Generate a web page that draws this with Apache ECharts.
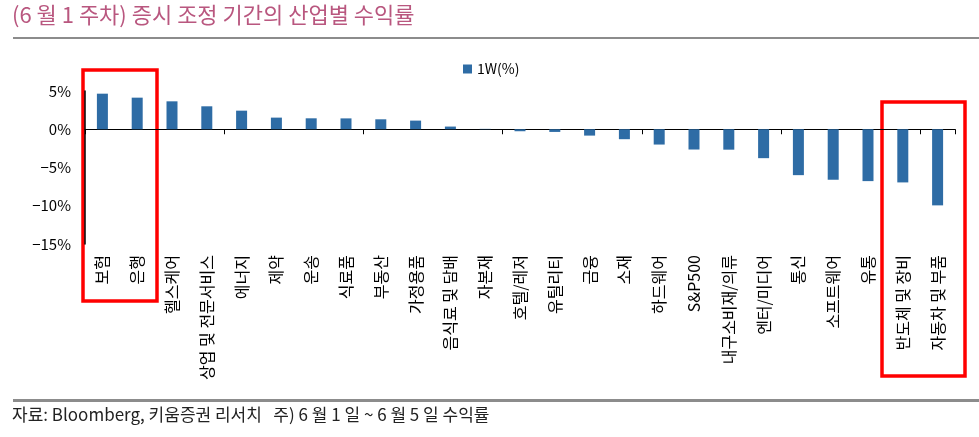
<!DOCTYPE html>
<html>
<head>
<meta charset="utf-8">
<script src="https://cdn.jsdelivr.net/npm/echarts@6/dist/echarts.min.js"></script>
<style>
  html, body { margin: 0; padding: 0; background: #fff; }
  #chart { width: 979px; height: 437px; }
</style>
</head>
<body>
<div id="chart"></div>
<script>
// 산업별 1주 수익률 (%)
const categories = ['보험', '은행', '헬스케어', '상업 및 전문서비스', '에너지', '제약', '운송', '식료품', '부동산', '가정용품',
  '음식료 및 담배', '자본재', '호텔/레저', '유틸리티', '금융', '소재', '하드웨어', 'S&P500', '내구소비재/의류', '엔터/미디어',
  '통신', '소프트웨어', '유통', '반도체 및 장비', '자동차 및 부품']
const weekReturn = [4.65, 4.13, 3.65, 3.0, 2.43, 1.52, 1.43, 1.42, 1.3, 1.13,
  0.35, 0.05, -0.26, -0.35, -0.83, -1.3, -2.0, -2.65, -2.67, -3.78,
  -6.0, -6.6, -6.78, -6.95, -9.95]
const yTicks = { min: -15, max: 5, interval: 5 }

const font = '"Noto Sans CJK KR", "Noto Sans", sans-serif'
const chart = echarts.init(document.getElementById('chart'))

chart.setOption({
  animation: false,
  textStyle: { fontFamily: font },
  grid: { left: 85, right: 24, top: 91, bottom: 193 },
  legend: {
    data: ['1W(%)'],
    top: 57,
    left: 458,
    itemWidth: 9,
    itemHeight: 9,
    icon: 'rect',
    textStyle: { fontSize: 14, color: '#000', fontFamily: font }
  },
  xAxis: [{
    type: 'category',
    data: categories,
    axisLine: { onZero: true, lineStyle: { color: '#000', width: 1 } },
    axisTick: { show: true, length: 5, lineStyle: { color: '#000' } },
    axisLabel: { show: false }
  }, {
    type: 'category',
    data: categories,
    position: 'bottom',
    axisLine: { show: false, onZero: false },
    axisTick: { show: false },
    axisLabel: {
      rotate: 90,
      margin: 11,
      fontSize: 16,
      color: '#000',
      fontFamily: font,
      interval: 0
    }
  }],
  yAxis: {
    type: 'value',
    min: yTicks.min,
    max: yTicks.max,
    interval: yTicks.interval,
    splitLine: { show: false },
    axisLine: { show: true, lineStyle: { color: '#000', width: 1.5 } },
    axisTick: { show: false },
    axisLabel: {
      fontSize: 15,
      color: '#000',
      margin: 14,
      formatter: v => (v < 0 ? '\u2212' + Math.abs(v) : v) + '%'
    }
  },
  series: [{
    name: '1W(%)',
    type: 'bar',
    xAxisIndex: 0,
    data: weekReturn,
    barWidth: 11,
    itemStyle: { color: '#2e6ca5' }
  }],
  graphic: [
    {
      type: 'text', left: 12, top: 4,
      style: { text: '(6 월 1 주차) 증시 조정 기간의 산업별 수익률', fontSize: 22, fill: '#b9577f', fontFamily: font }
    },
    { type: 'rect', shape: { x: 13, y: 37, width: 966, height: 2 }, style: { fill: '#8c8c8c' } },
    { type: 'rect', shape: { x: 13, y: 399, width: 966, height: 3 }, style: { fill: '#8c8c8c' } },
    {
      type: 'text', left: 12, top: 406,
      style: { text: '자료: Bloomberg, 키움증권 리서치   주) 6 월 1 일 ~ 6 월 5 일 수익률', fontSize: 17, fill: '#222', fontFamily: font }
    },
    { type: 'rect', shape: { x: 83, y: 70, width: 74, height: 231 }, style: { fill: 'none', stroke: '#ff0000', lineWidth: 3.5 } },
    { type: 'rect', shape: { x: 882, y: 102, width: 83, height: 274 }, style: { fill: 'none', stroke: '#ff0000', lineWidth: 3.5 } }
  ]
})
</script>
</body>
</html>
